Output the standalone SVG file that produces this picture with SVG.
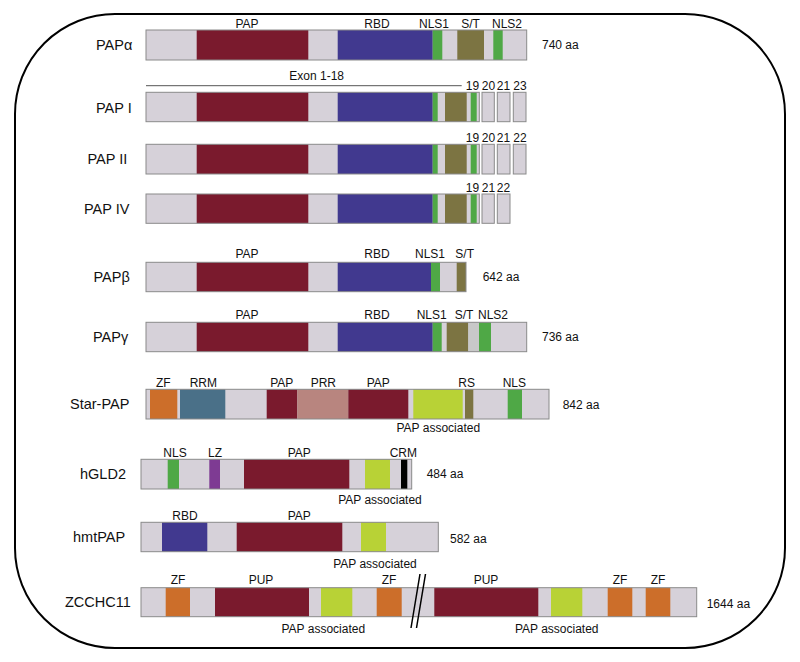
<svg xmlns="http://www.w3.org/2000/svg" width="800" height="662" viewBox="0 0 800 662">
<style>
text{font-family:"Liberation Sans",Arial,sans-serif;fill:#111}
.nm{font-size:14.5px}
.lb{font-size:12px;text-anchor:middle}
.aa{font-size:12px}
.bg{fill:#d6d1d9}
.ol{fill:none;stroke:#8a8a8a;stroke-width:1}
.pap{fill:#7a1a2d}
.rbd{fill:#41398f}
.grn{fill:#4fa846}
.st{fill:#7c7442}
.orn{fill:#cc6e2a}
.rrm{fill:#4a7088}
.prr{fill:#b8857f}
.lg{fill:#b8d236}
.pur{fill:#7e3b93}
.blk{fill:#000}
.g2{fill:#c8c8c8}
</style>
<rect x="0" y="0" width="800" height="662" fill="#fff"/>
<rect x="15" y="14" width="770" height="634" rx="100" ry="100" fill="none" stroke="#000" stroke-width="2"/>

<g id="papa">
<text class="nm" x="96" y="50">PAPα</text>
<rect class="bg" x="146" y="30" width="380.7" height="30"/>
<rect class="pap" x="196.7" y="30" width="111.6" height="30"/>
<rect class="rbd" x="337.7" y="30" width="95" height="30"/>
<rect class="grn" x="432.7" y="30" width="9.6" height="30"/>
<rect class="st" x="457.3" y="30" width="26.7" height="30"/>
<rect class="grn" x="493.3" y="30" width="9.4" height="30"/>
<rect class="ol" x="146" y="30" width="380.7" height="30"/>
<text class="lb" x="247" y="27.5">PAP</text>
<text class="lb" x="377" y="27.5">RBD</text>
<text class="lb" x="434" y="27.5">NLS1</text>
<text class="lb" x="470.5" y="27.5">S/T</text>
<text class="lb" x="507" y="27.5">NLS2</text>
<text class="aa" x="542" y="49">740 aa</text>
</g>

<g id="connectors">
<line x1="146" y1="85.7" x2="461.7" y2="85.7" stroke="#555" stroke-width="1"/>
<text class="lb" x="316.7" y="80">Exon 1-18</text>
</g>

<g id="pap1">
<text class="nm" x="96" y="113">PAP I</text>
<rect class="bg" x="146" y="92.3" width="333.3" height="29.4"/>
<rect class="pap" x="196.7" y="92.3" width="111.6" height="29.4"/>
<rect class="rbd" x="337.7" y="92.3" width="95" height="29.4"/>
<rect class="grn" x="432.7" y="92.3" width="5" height="29.4"/>
<rect class="st" x="445" y="92.3" width="21.7" height="29.4"/>
<rect class="grn" x="470.7" y="92.3" width="6" height="29.4"/>
<rect class="ol" x="146" y="92.3" width="333.3" height="29.4"/>
<rect class="bg" x="482" y="92.3" width="12.3" height="29.4" stroke="#8a8a8a"/>
<rect class="bg" x="497.3" y="92.3" width="12.7" height="29.4" stroke="#8a8a8a"/>
<rect class="bg" x="513.3" y="92.3" width="12.7" height="29.4" stroke="#8a8a8a"/>
<text class="lb" x="472.5" y="90">19</text>
<text class="lb" x="488.5" y="90">20</text>
<text class="lb" x="503.5" y="90">21</text>
<text class="lb" x="520" y="90">23</text>
</g>

<g id="pap2">
<text class="nm" x="87.5" y="164">PAP II</text>
<rect class="bg" x="146" y="144.3" width="333.3" height="29.7"/>
<rect class="pap" x="196.7" y="144.3" width="111.6" height="29.7"/>
<rect class="rbd" x="337.7" y="144.3" width="95" height="29.7"/>
<rect class="grn" x="432.7" y="144.3" width="5" height="29.7"/>
<rect class="st" x="445" y="144.3" width="21.7" height="29.7"/>
<rect class="grn" x="470.7" y="144.3" width="6" height="29.7"/>
<rect class="ol" x="146" y="144.3" width="333.3" height="29.7"/>
<rect class="bg" x="482" y="144.3" width="12.3" height="29.7" stroke="#8a8a8a"/>
<rect class="bg" x="497.3" y="144.3" width="12.7" height="29.7" stroke="#8a8a8a"/>
<rect class="bg" x="513.3" y="144.3" width="12.7" height="29.7" stroke="#8a8a8a"/>
<text class="lb" x="472.5" y="142">19</text>
<text class="lb" x="488.5" y="142">20</text>
<text class="lb" x="503.5" y="142">21</text>
<text class="lb" x="520" y="142">22</text>
</g>

<g id="pap4">
<text class="nm" x="84" y="214">PAP IV</text>
<rect class="bg" x="146" y="194" width="333.3" height="29.3"/>
<rect class="pap" x="196.7" y="194" width="111.6" height="29.3"/>
<rect class="rbd" x="337.7" y="194" width="95" height="29.3"/>
<rect class="grn" x="432.7" y="194" width="5" height="29.3"/>
<rect class="st" x="445" y="194" width="21.7" height="29.3"/>
<rect class="grn" x="470.7" y="194" width="6" height="29.3"/>
<rect class="ol" x="146" y="194" width="333.3" height="29.3"/>
<rect class="bg" x="482" y="194" width="12.3" height="29.3" stroke="#8a8a8a"/>
<rect class="bg" x="497.3" y="194" width="12.7" height="29.3" stroke="#8a8a8a"/>
<text class="lb" x="472.5" y="191.7">19</text>
<text class="lb" x="488.5" y="191.7">21</text>
<text class="lb" x="503.5" y="191.7">22</text>
</g>

<g id="papb">
<text class="nm" x="93.5" y="282">PAPβ</text>
<rect class="bg" x="146" y="262.3" width="320" height="29.4"/>
<rect class="pap" x="196.7" y="262.3" width="111.6" height="29.4"/>
<rect class="rbd" x="337.7" y="262.3" width="93.3" height="29.4"/>
<rect class="grn" x="431" y="262.3" width="9" height="29.4"/>
<rect class="st" x="456.7" y="262.3" width="9.3" height="29.4"/>
<rect class="ol" x="146" y="262.3" width="320" height="29.4"/>
<text class="lb" x="247" y="258.3">PAP</text>
<text class="lb" x="377" y="258.3">RBD</text>
<text class="lb" x="430" y="258.3">NLS1</text>
<text class="lb" x="464.7" y="258.3">S/T</text>
<text class="aa" x="482.7" y="281">642 aa</text>
</g>

<g id="papg">
<text class="nm" x="93" y="342">PAPγ</text>
<rect class="bg" x="146" y="322.3" width="380.7" height="29.4"/>
<rect class="pap" x="196.7" y="322.3" width="111.6" height="29.4"/>
<rect class="rbd" x="337.7" y="322.3" width="95" height="29.4"/>
<rect class="grn" x="432.7" y="322.3" width="9" height="29.4"/>
<rect class="st" x="446.7" y="322.3" width="21.6" height="29.4"/>
<rect class="g2" x="468.3" y="322.3" width="10.7" height="29.4"/>
<rect class="grn" x="479" y="322.3" width="12" height="29.4"/>
<rect class="ol" x="146" y="322.3" width="380.7" height="29.4"/>
<text class="lb" x="247" y="319">PAP</text>
<text class="lb" x="377" y="319">RBD</text>
<text class="lb" x="431.7" y="319">NLS1</text>
<text class="lb" x="464" y="319">S/T</text>
<text class="lb" x="493" y="319">NLS2</text>
<text class="aa" x="542" y="341">736 aa</text>
</g>

<g id="starpap">
<text class="nm" x="70" y="409">Star-PAP</text>
<rect class="bg" x="146" y="389.3" width="403" height="29.7"/>
<rect class="orn" x="150" y="389.3" width="27.3" height="29.7"/>
<rect class="rrm" x="180" y="389.3" width="45.3" height="29.7"/>
<rect class="pap" x="266.7" y="389.3" width="30.6" height="29.7"/>
<rect class="prr" x="297.3" y="389.3" width="51" height="29.7"/>
<rect class="pap" x="348.3" y="389.3" width="60" height="29.7"/>
<rect class="lg" x="413.3" y="389.3" width="49.4" height="29.7"/>
<rect class="st" x="465" y="389.3" width="8.3" height="29.7"/>
<rect class="grn" x="507.7" y="389.3" width="14.3" height="29.7"/>
<rect class="ol" x="146" y="389.3" width="403" height="29.7"/>
<text class="lb" x="163.3" y="387">ZF</text>
<text class="lb" x="203.3" y="387">RRM</text>
<text class="lb" x="281.7" y="387">PAP</text>
<text class="lb" x="323.3" y="387">PRR</text>
<text class="lb" x="378.3" y="387">PAP</text>
<text class="lb" x="466.7" y="387">RS</text>
<text class="lb" x="514.3" y="387">NLS</text>
<text class="lb" x="438.3" y="432">PAP associated</text>
<text class="aa" x="562.7" y="408.5">842 aa</text>
</g>

<g id="hgld2">
<text class="nm" x="80" y="479">hGLD2</text>
<rect class="bg" x="141" y="459.3" width="270.7" height="29.7"/>
<rect class="grn" x="167.7" y="459.3" width="11.3" height="29.7"/>
<rect class="pur" x="209.3" y="459.3" width="10.7" height="29.7"/>
<rect class="pap" x="244" y="459.3" width="105.3" height="29.7"/>
<rect class="lg" x="365" y="459.3" width="25" height="29.7"/>
<rect class="blk" x="401" y="459.3" width="6.3" height="29.7"/>
<rect class="ol" x="141" y="459.3" width="270.7" height="29.7"/>
<text class="lb" x="175" y="456.7">NLS</text>
<text class="lb" x="215" y="456.7">LZ</text>
<text class="lb" x="299.3" y="456.7">PAP</text>
<text class="lb" x="403.3" y="456.7">CRM</text>
<text class="lb" x="380" y="504">PAP associated</text>
<text class="aa" x="426.7" y="478.3">484 aa</text>
</g>

<g id="hmtpap">
<text class="nm" x="73" y="542">hmtPAP</text>
<rect class="bg" x="141" y="522.3" width="297.3" height="29.4"/>
<rect class="rbd" x="162" y="522.3" width="45.3" height="29.4"/>
<rect class="pap" x="236.7" y="522.3" width="105.6" height="29.4"/>
<rect class="lg" x="361" y="522.3" width="25" height="29.4"/>
<rect class="ol" x="141" y="522.3" width="297.3" height="29.4"/>
<text class="lb" x="185" y="520">RBD</text>
<text class="lb" x="299.3" y="520">PAP</text>
<text class="lb" x="375" y="567.7">PAP associated</text>
<text class="aa" x="450" y="542.5">582 aa</text>
</g>

<g id="zcchc11">
<text class="nm" x="65" y="607">ZCCHC11</text>
<rect class="bg" x="141" y="587.7" width="555.7" height="29"/>
<rect class="orn" x="165.7" y="587.7" width="24.3" height="29"/>
<rect class="pap" x="215" y="587.7" width="94" height="29"/>
<rect class="lg" x="321" y="587.7" width="31.3" height="29"/>
<rect class="orn" x="376.7" y="587.7" width="25" height="29"/>
<rect class="pap" x="434.3" y="587.7" width="104" height="29"/>
<rect class="lg" x="551" y="587.7" width="31.3" height="29"/>
<rect class="orn" x="607.7" y="587.7" width="24.6" height="29"/>
<rect class="orn" x="645.7" y="587.7" width="24.6" height="29"/>
<rect class="ol" x="141" y="587.7" width="555.7" height="29"/>
<text class="lb" x="178" y="584">ZF</text>
<text class="lb" x="261" y="584">PUP</text>
<text class="lb" x="389" y="584">ZF</text>
<text class="lb" x="486" y="584">PUP</text>
<text class="lb" x="620" y="584">ZF</text>
<text class="lb" x="658" y="584">ZF</text>
<text class="lb" x="323.3" y="633.3">PAP associated</text>
<text class="lb" x="556.7" y="633.3">PAP associated</text>
<text class="aa" x="706.7" y="607.5">1644 aa</text>
<line x1="411" y1="628" x2="420" y2="574" stroke="#000" stroke-width="1.5"/>
<line x1="416.5" y1="628" x2="425.5" y2="574" stroke="#000" stroke-width="1.5"/>
</g>
</svg>
